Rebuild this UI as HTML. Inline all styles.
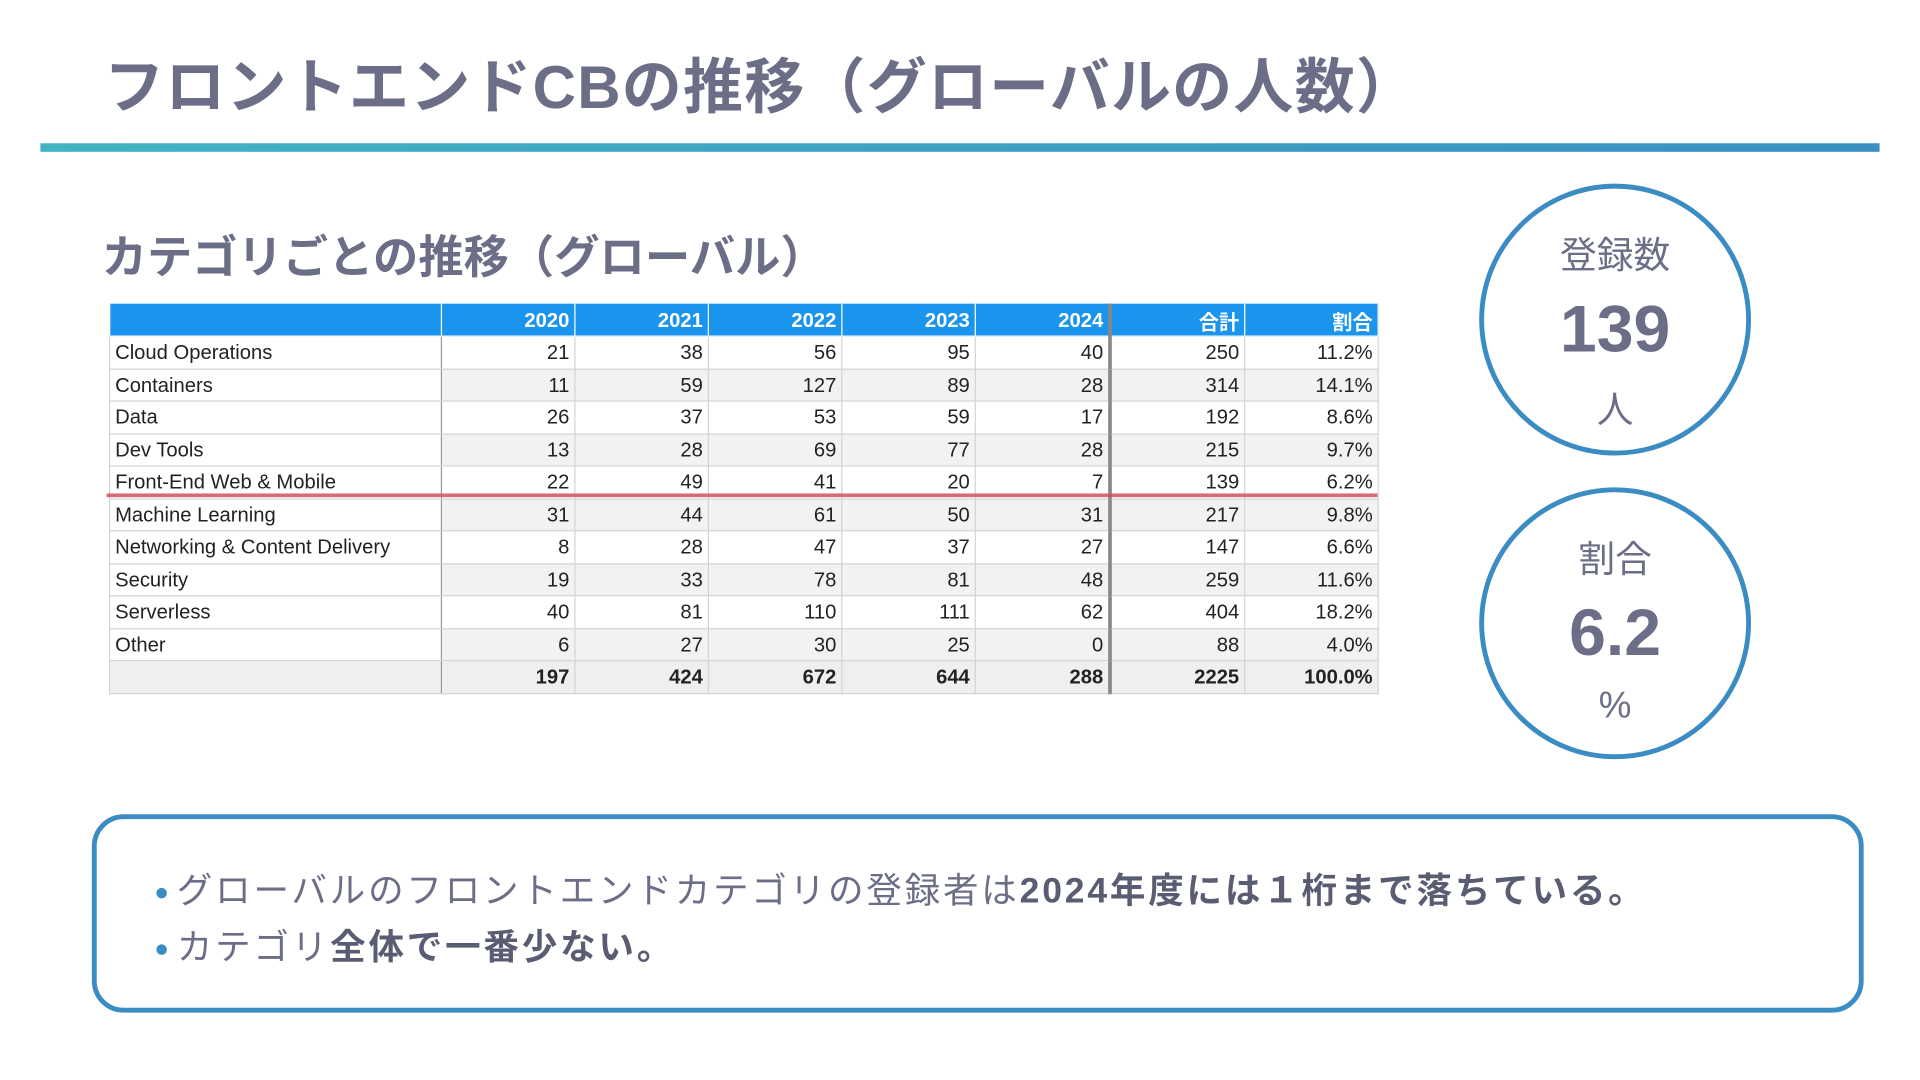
<!DOCTYPE html>
<html><head><meta charset="utf-8">
<style>
html,body{margin:0;padding:0;background:#fff;overflow:hidden}
body{width:1920px;height:1080px;position:relative}
#wrap{position:absolute;left:0;top:0;width:1568px;height:882px;transform:scale(1.22449);transform-origin:0 0;font-family:"Liberation Sans","Noto Sans CJK JP",sans-serif}
.title{position:absolute;left:85px;top:32px;font-size:49px;font-weight:bold;color:#6b6e86;letter-spacing:1px;white-space:nowrap}
.bar{position:absolute;left:33px;top:117px;width:1502px;height:7px;background:linear-gradient(90deg,#40b4c2,#3b8fc2)}
.sub{position:absolute;left:83px;top:180px;font-size:37px;font-weight:bold;color:#6b6e86;white-space:nowrap}
table{position:absolute;left:89px;top:248px;border-collapse:collapse;font-size:16.5px;color:#222}
td,th{height:23.5px;padding:2px 4px 0 4px;border:1px solid #d4d4d4;text-align:right;white-space:nowrap}
th{background:#1a95ee;color:#fff;font-weight:bold;border-color:#fff;border-top:none;height:22px}
td.l{text-align:left;width:262px;background:#fff !important;border-right:1px solid #999}
tr.alt td{background:#f2f2f2}
td.n{width:100px}
.sep{border-right:3px solid #888 !important}
tr.tot td{font-weight:bold;background:#efefef;border-top:1px solid #999}
.red{position:absolute;left:87px;top:403px;width:1038px;height:3px;background:#d05060;opacity:.85}
.circ{position:absolute;width:214px;height:214px;border:4px solid #3b8cc2;border-radius:50%;color:#6b6e86;text-align:center}
.c1{font-size:30px;position:absolute;left:0;right:0}
.c2{font-size:54px;font-weight:bold;position:absolute;left:0;right:0}
.box{position:absolute;left:75px;top:665px;width:1439px;height:154px;border:4px solid #3b8cc2;border-radius:26px}
.line{position:absolute;left:47px;font-size:29px;color:#6b6e86;white-space:nowrap;letter-spacing:2.3px}
.line b{color:#5a5d72}
.dot{color:#3b8cc2;font-size:20px;vertical-align:middle;margin-right:4px}
</style></head><body>
<div id="wrap">
<div class="title">フロントエンドCBの推移（グローバルの人数）</div>
<div class="bar"></div>
<div class="sub">カテゴリごとの推移（グローバル）</div>
<table id="tbl"></table>
<div class="red"></div>
<div class="circ" style="left:1208px;top:150px">
<div class="c1" style="top:30px">登録数</div><div class="c2" style="top:84px">139</div><div class="c1" style="top:156px">人</div></div>
<div class="circ" style="left:1208px;top:398px">
<div class="c1" style="top:30px">割合</div><div class="c2" style="top:84px">6.2</div><div class="c1" style="top:158px">%</div></div>
<div class="box">
<div class="line" style="top:35px"><span class="dot">●</span>グローバルのフロントエンドカテゴリの登録者は<b>2024年度には１桁まで落ちている。</b></div>
<div class="line" style="top:81px"><span class="dot">●</span>カテゴリ<b>全体で一番少ない。</b></div>
</div>
</div>
<script>
const years=["2020","2021","2022","2023","2024"];
const categories=["Cloud Operations","Containers","Data","Dev Tools","Front-End Web & Mobile","Machine Learning","Networking & Content Delivery","Security","Serverless","Other"];
const y2020=[21,11,26,13,22,31,8,19,40,6];
const y2021=[38,59,37,28,49,44,28,33,81,27];
const y2022=[56,127,53,69,41,61,47,78,110,30];
const y2023=[95,89,59,77,20,50,37,81,111,25];
const y2024=[40,28,17,28,7,31,27,48,62,0];
const series=[y2020,y2021,y2022,y2023,y2024];
const tbl=document.getElementById('tbl');
let h='<tr><th style="width:262px"></th>';
years.forEach((y,i)=>{h+='<th class="'+(i==4?'sep':'')+'" style="width:100px">'+y+'</th>';});
h+='<th style="width:100px">合計</th><th style="width:100px">割合</th></tr>';
const totals=categories.map((c,i)=>series.reduce((s,a)=>s+a[i],0));
const grand=totals.reduce((a,b)=>a+b,0);
categories.forEach((c,i)=>{
  h+='<tr class="'+(i%2?'alt':'')+'"><td class="l">'+c+'</td>';
  series.forEach((a,j)=>{h+='<td class="n'+(j==4?' sep':'')+'">'+a[i]+'</td>';});
  h+='<td>'+totals[i]+'</td><td>'+(totals[i]/grand*100).toFixed(1)+'%</td></tr>';
});
h+='<tr class="tot"><td class="l" style="background:#efefef !important"></td>';
series.forEach((a,j)=>{h+='<td class="'+(j==4?'sep':'')+'">'+a.reduce((s,v)=>s+v,0)+'</td>';});
h+='<td>'+grand+'</td><td>100.0%</td></tr>';
tbl.innerHTML=h;
tbl.querySelectorAll('tr').forEach((r,i)=>{
  
  
});
</script>
</body></html>
